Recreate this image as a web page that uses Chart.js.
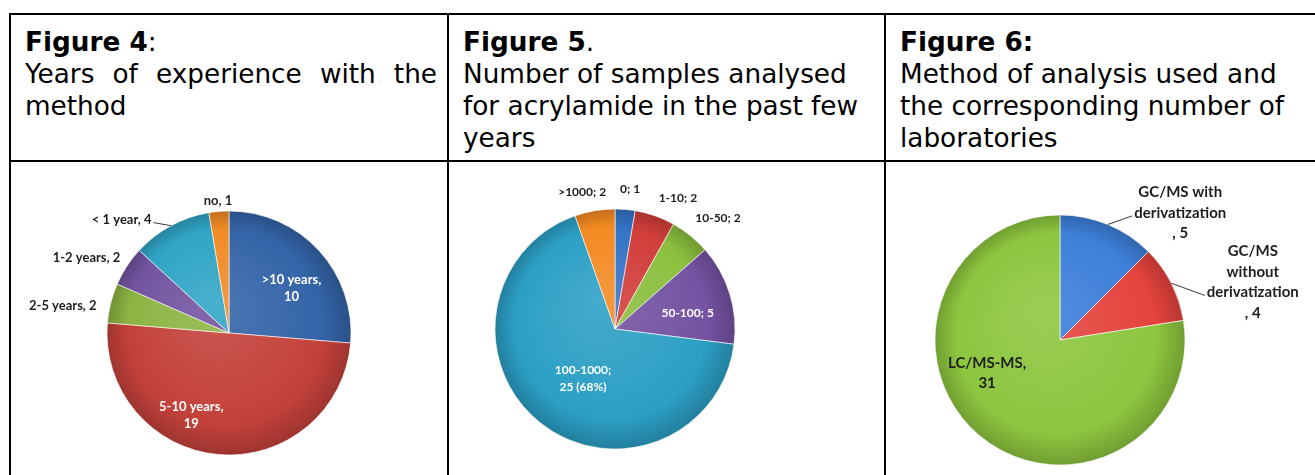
<!DOCTYPE html>
<html lang="en">
<head>
<meta charset="UTF-8">
<title>Figures 4-6: acrylamide survey</title>
<script src="https://cdn.jsdelivr.net/npm/chart.js"></script>
<style>
  body { margin: 0; background: #fff; width: 1315px; height: 475px; position: relative; overflow: hidden;
         font-family: "DejaVu Sans", Verdana, sans-serif; }
  .rule { position: absolute; background: #000; z-index: 2; }
  .head { position: absolute; top: 26px; font-size: 26.3px; line-height: 32px; color: #000; }
  canvas { position: absolute; top: 162px; }
</style>
</head>
<body>
<div class="rule" style="left:9px; top:13px; width:1306px; height:2px"></div>
<div class="rule" style="left:9px; top:160px; width:1306px; height:2px"></div>
<div class="rule" style="left:9px; top:13px; width:2px; height:462px"></div>
<div class="rule" style="left:447px; top:13px; width:2px; height:462px"></div>
<div class="rule" style="left:884px; top:13px; width:2px; height:462px"></div>

<div class="head" style="left:25px; width:412px; text-align:justify"><b>Figure 4</b>:<br>Years of experience with the method</div>
<div class="head" style="left:463px; width:410px"><b>Figure 5</b>.<br>Number of samples analysed for acrylamide in the past few years</div>
<div class="head" style="left:900px; width:412px"><b>Figure 6:</b><br>Method of analysis used and the corresponding number of laboratories</div>

<canvas id="fig4" width="436" height="313" style="left:11px"></canvas>
<canvas id="fig5" width="435" height="313" style="left:449px"></canvas>
<canvas id="fig6" width="429" height="313" style="left:886px"></canvas>

<script>
// Figure 4: years of experience
const expLabels = ['>10 years', '5-10 years', '2-5 years', '1-2 years', '< 1 year', 'no'];
const expValues = [10, 19, 2, 2, 4, 1];

// Figure 5: samples analysed
const sampleLabels = ['0', '1-10', '10-50', '50-100', '100-1000', '>1000'];
const sampleValues = [1, 2, 2, 5, 25, 2];

// Figure 6: method of analysis
const methodLabels = ['GC/MS with derivatization', 'GC/MS without derivatization', 'LC/MS-MS'];
const methodValues = [5, 4, 31];

function shade(hex, f) {
    var n = parseInt(hex.slice(1), 16);
    var c = [n >> 16, (n >> 8) & 255, n & 255];
    var t = f < 0 ? 0 : 255, p = Math.abs(f);
    c = c.map(function (v) { return Math.round(v + (t - v) * p); });
    return 'rgb(' + c.join(',') + ')';
}

function fillFor(colors) {
    return function (c) {
        var chart = c.chart, a = chart.chartArea, base = colors[c.dataIndex];
        if (!a) return base;
        var cx = (a.left + a.right) / 2, cy = (a.top + a.bottom) / 2;
        var r = chart.options.radius;
        var g = chart.ctx.createRadialGradient(cx - r * 0.15, cy - r * 0.25, 0, cx, cy, r);
        g.addColorStop(0, shade(base, 0.12));
        g.addColorStop(0.8, base);
        g.addColorStop(1, shade(base, -0.2));
        return g;
    };
}

// draws the data labels (and leader lines) round each pie
const pieLabels = {
    id: 'pieLabels',
    afterDraw: function (chart, args, opts) {
        var ctx = chart.ctx;
        var arcs = chart.getDatasetMeta(0).data;
        ctx.save();
        ctx.font = 'bold ' + opts.size + 'px Lato, "Open Sans", sans-serif';
        ctx.textAlign = 'center';
        ctx.textBaseline = 'middle';
        arcs.forEach(function (arc, i) {
            var p = opts.place[i];
            var lines = opts.text(i);
            var am = (arc.startAngle + arc.endAngle) / 2;
            var mid = am + p.shift * Math.PI / 180;
            var x = arc.x + Math.cos(mid) * arc.outerRadius * p.rf;
            var y = arc.y + Math.sin(mid) * arc.outerRadius * p.rf;
            var top = y - (lines.length - 1) * opts.lh / 2;
            ctx.fillStyle = p.color || '#1e1e1e';
            lines.forEach(function (t, k) { ctx.fillText(t, x, top + k * opts.lh); });
            if (p.leader) {
                var ax = arc.x + Math.cos(am) * arc.outerRadius;
                var ay = arc.y + Math.sin(am) * arc.outerRadius;
                var w = ctx.measureText(lines[p.leader.line]).width;
                var ly = top + p.leader.line * opts.lh + 3;
                var lx = p.leader.side === 'right' ? x + w / 2 + 2 : x - w / 2 - 2;
                ctx.strokeStyle = '#3a3a3a';
                ctx.lineWidth = 1;
                ctx.beginPath();
                ctx.moveTo(ax, ay);
                ctx.lineTo(lx, ly);
                ctx.stroke();
            }
        });
        ctx.restore();
    }
};

function makePie(id, labels, values, colors, radius, pad, labelOpts) {
    return new Chart(document.getElementById(id), {
        type: 'pie',
        data: {
            labels: labels,
            datasets: [{
                data: values,
                backgroundColor: fillFor(colors),
                borderColor: 'rgba(255,255,255,0.6)',
                borderWidth: 1
            }]
        },
        options: {
            responsive: false,
            animation: false,
            radius: radius,
            layout: { padding: pad },
            plugins: {
                legend: { display: false },
                tooltip: { enabled: false },
                pieLabels: labelOpts
            }
        },
        plugins: [pieLabels]
    });
}

makePie('fig4', expLabels, expValues,
    ['#3464a8', '#c4413b', '#8db443', '#7254a0', '#30a5c6', '#f18b26'], 122,
    { left: 96, right: 96, top: 49, bottom: 20 },
    {
        size: 13, lh: 17,
        text: function (i) {
            return i < 2 ? [expLabels[i] + ',', String(expValues[i])] : [expLabels[i] + ', ' + expValues[i]];
        },
        place: [
            { shift: 7, rf: 0.63, color: '#fff' },
            { shift: 20, rf: 0.74, color: '#fff' },
            { shift: -5, rf: 1.38 },
            { shift: -5.4, rf: 1.32 },
            { shift: -15, rf: 1.28, leader: { line: 0, side: 'right' } },
            { shift: 0, rf: 1.09 }
        ]
    });

const sampleTotal = sampleValues.reduce(function (a, b) { return a + b; }, 0);
makePie('fig5', sampleLabels, sampleValues,
    ['#3473c6', '#d23e3a', '#8cbf3f', '#7453a2', '#2c9fc5', '#f48a22'], 120,
    { left: 46, right: 149, top: 47, bottom: 26 },
    {
        size: 12, lh: 17,
        text: function (i) {
            if (i === 4) {
                return [sampleLabels[i] + ';', sampleValues[i] + ' (' + Math.round(sampleValues[i] / sampleTotal * 100) + '%)'];
            }
            return [sampleLabels[i] + '; ' + sampleValues[i]];
        },
        place: [
            { shift: 1.3, rf: 1.17 },
            { shift: 6.2, rf: 1.21 },
            { shift: 4, rf: 1.26 },
            { shift: 4.6, rf: 0.62, color: '#fff' },
            { shift: -6, rf: 0.49, color: '#fff' },
            { shift: -3.8, rf: 1.17 }
        ]
    });

makePie('fig6', methodLabels, methodValues,
    ['#3d7fd9', '#e5433d', '#8dc63f'], 125,
    { left: 49, right: 130, top: 53, bottom: 10 },
    {
        size: 15, lh: 20.5,
        text: function (i) {
            var v = ', ' + methodValues[i];
            if (i === 0) return ['GC/MS with', 'derivatization', v];
            if (i === 1) return ['GC/MS', 'without', 'derivatization', v];
            return [methodLabels[i] + ',', String(methodValues[i])];
        },
        place: [
            { shift: 20.9, rf: 1.4, leader: { line: 1, side: 'left' } },
            { shift: 10.3, rf: 1.61, leader: { line: 2, side: 'left' } },
            { shift: 25.2, rf: 0.64 }
        ]
    });
</script>
</body>
</html>
